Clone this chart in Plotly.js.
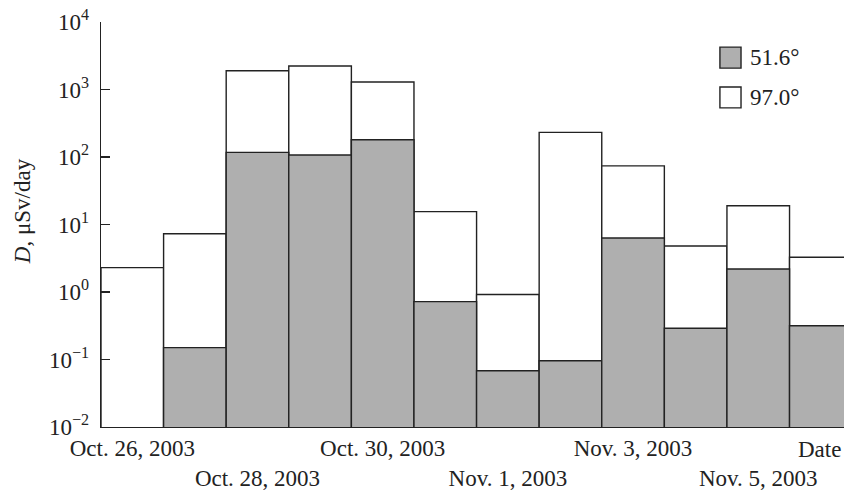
<!DOCTYPE html>
<html>
<head>
<meta charset="utf-8">
<script src="https://cdn.plot.ly/plotly-3.0.1.min.js"></script>
<style>html,body{margin:0;padding:0;background:#fff;}#chart{width:844px;height:491px;}</style>
</head>
<body>
<div id="chart"></div>
<script>
// Days (bar index 0 = Oct. 26, 2003 ... 11 = Nov. 6, 2003)
const days = [0, 1, 2, 3, 4, 5, 6, 7, 8, 9, 10, 11];
// Daily dose, µSv/day
const dose97 = [2.3, 7.3, 1900, 2230, 1290, 15.5, 0.92, 232, 74, 4.8, 19, 3.27];
const dose516 = [null, 0.15, 117, 107, 180, 0.72, 0.068, 0.096, 6.3, 0.29, 2.19, 0.316];
const seriesNames = ['97.0°', '51.6°'];
const dateTickVals = [0, 2, 4, 6, 8, 10];
const dateTickText = ['Oct. 26, 2003', '<br>Oct. 28, 2003', 'Oct. 30, 2003', '<br>Nov. 1, 2003', 'Nov. 3, 2003', '<br>Nov. 5, 2003'];
const yTickVals = [0.01, 0.1, 1, 10, 100, 1000, 10000];
const yTickText = ['10<sup>−2</sup>', '10<sup>−1</sup>', '10<sup>0</sup>', '10<sup>1</sup>', '10<sup>2</sup>', '10<sup>3</sup>', '10<sup>4</sup>'];

const FONT = '"Liberation Serif", "Times New Roman", Times, serif';
const INK = '#222222';
const GRAY = '#afafaf';

const traces = [
  {type: 'bar', x: days, y: dose97, name: seriesNames[0], width: 1,
   marker: {color: '#ffffff', line: {color: INK, width: 1.4}}, hoverinfo: 'skip'},
  {type: 'bar', x: days, y: dose516, name: seriesNames[1], width: 1,
   marker: {color: GRAY, line: {color: INK, width: 1.4}}, hoverinfo: 'skip'}
];

const layout = {
  width: 844, height: 491,
  margin: {l: 101, r: 0, t: 22, b: 64},
  paper_bgcolor: '#ffffff', plot_bgcolor: '#ffffff',
  font: {family: FONT, size: 23, color: INK},
  barmode: 'overlay', bargap: 0,
  showlegend: false,
  xaxis: {
    range: [-0.5, 11.37], showgrid: false, zeroline: false,
    showline: true, linecolor: INK, linewidth: 1.4,
    tickmode: 'array', tickvals: dateTickVals, ticktext: dateTickText,
    ticks: '', tickangle: 0,
    tickfont: {family: FONT, size: 23, color: INK}
  },
  yaxis: {
    type: 'log', range: [-2, 4], showgrid: false, zeroline: false,
    showline: true, linecolor: INK, linewidth: 1.4,
    tickmode: 'array', tickvals: yTickVals, ticktext: yTickText,
    ticks: 'inside', ticklen: 9, tickwidth: 1.4, tickcolor: INK,
    ticklabelstandoff: 6,
    tickfont: {family: FONT, size: 23, color: INK}
  },
  shapes: [
    {type: 'rect', xref: 'paper', yref: 'paper', x0: 0.833, x1: 0.8614, y0: 0.886, y1: 0.938,
     fillcolor: GRAY, line: {color: INK, width: 1.4}},
    {type: 'rect', xref: 'paper', yref: 'paper', x0: 0.833, x1: 0.8614, y0: 0.788, y1: 0.8395,
     fillcolor: '#ffffff', line: {color: INK, width: 1.4}}
  ],
  annotations: [
    {text: seriesNames[1], xref: 'paper', yref: 'paper', x: 0.871, y: 0.912, xanchor: 'left', yanchor: 'middle', showarrow: false, font: {family: FONT, size: 23, color: INK}},
    {text: seriesNames[0], xref: 'paper', yref: 'paper', x: 0.871, y: 0.8136, xanchor: 'left', yanchor: 'middle', showarrow: false, font: {family: FONT, size: 23, color: INK}},
    {text: '<i>D</i>, μSv/day', xref: 'paper', yref: 'paper', x: 0, xshift: -79, y: 0.533, textangle: -90, xanchor: 'center', yanchor: 'middle', showarrow: false, font: {family: FONT, size: 23, color: INK}},
    {text: 'Date', xref: 'paper', yref: 'paper', x: 1, y: 0, xanchor: 'right', yanchor: 'top', yshift: -8, xshift: -1, showarrow: false, font: {family: FONT, size: 23, color: INK}}
  ]
};

Plotly.newPlot('chart', traces, layout, {staticPlot: true, displayModeBar: false});
</script>
</body>
</html>
